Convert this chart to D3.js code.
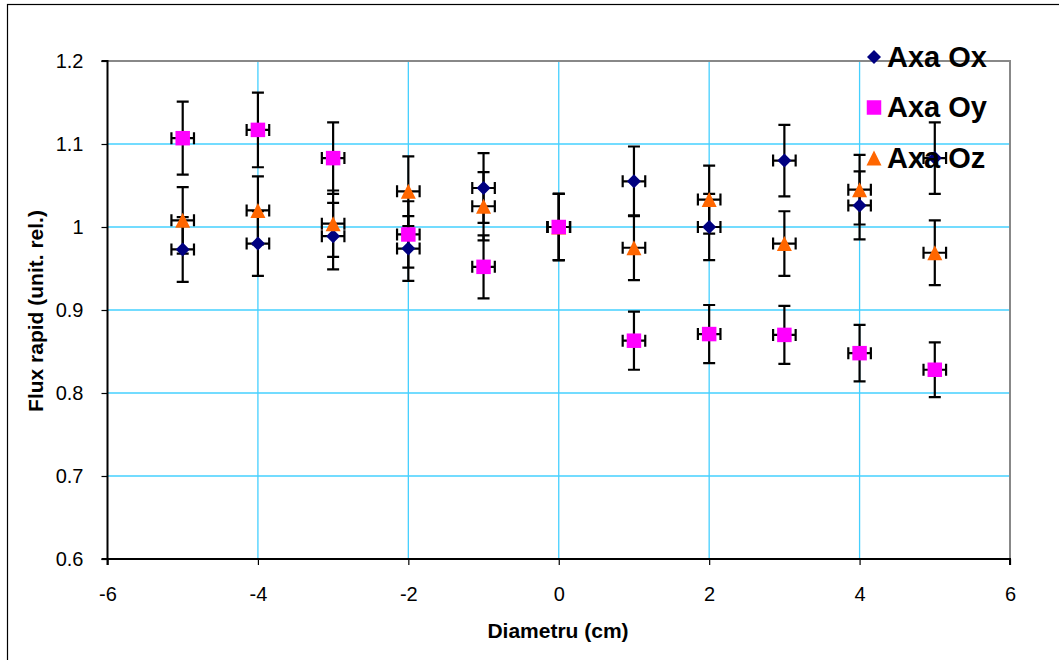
<!DOCTYPE html>
<html>
<head>
<meta charset="utf-8">
<script src="https://cdn.jsdelivr.net/npm/d3@7"></script>
<style>
  html, body { margin: 0; padding: 0; background: #fff; }
  svg { display: block; font-family: Arial, "Liberation Sans", sans-serif; }
</style>
</head>
<body>
<svg id="chart" width="1059" height="660"></svg>
<script>
// ---- data ----
const diameters = [-5, -4, -3, -2, -1, 0, 1, 2, 3, 4, 5];
const fluxOx = [0.973, 0.980, 0.989, 0.974, 1.047, 1.000, 1.055, 1.000, 1.080, 1.026, 1.083];
const fluxOy = [1.107, 1.117, 1.083, 0.991, 0.952, 1.000, 0.863, 0.871, 0.870, 0.848, 0.828];
const fluxOz = [1.008, 1.020, 1.004, 1.043, 1.025, 1.000, 0.975, 1.033, 0.980, 1.045, 0.969];
const errOx = [0.039, 0.039, 0.040, 0.039, 0.042, 0.040, 0.042, 0.040, 0.043, 0.041, 0.043];
const errOy = [0.044, 0.045, 0.043, 0.040, 0.038, 0.040, 0.035, 0.035, 0.035, 0.034, 0.033];
const errOz = [0.040, 0.041, 0.040, 0.042, 0.041, 0.040, 0.039, 0.041, 0.039, 0.042, 0.039];
const errX = [0.15, 0.15, 0.15, 0.15, 0.15, 0.15, 0.15, 0.15, 0.15, 0.15, 0.15];
const seriesNames = ["Axa Ox", "Axa Oy", "Axa Oz"];
const xTicks = [-6, -4, -2, 0, 2, 4, 6];
const yTicks = [0.6, 0.7, 0.8, 0.9, 1.0, 1.1, 1.2];
const xTitle = "Diametru (cm)";
const yTitle = "Flux rapid (unit. rel.)";

(function () {
// square rotated 45 degrees (Excel-style diamond)
const diamond = { draw(ctx, size) { const r = Math.sqrt(size / 2); ctx.moveTo(0, -r); ctx.lineTo(r, 0); ctx.lineTo(0, r); ctx.lineTo(-r, 0); ctx.closePath(); } };
// isosceles triangle with bbox centered
const tri = { draw(ctx, size) { const h = Math.sqrt(size) ; ctx.moveTo(0, -h / 2); ctx.lineTo(h / 2, h / 2); ctx.lineTo(-h / 2, h / 2); ctx.closePath(); } };

const series = [
  { name: seriesNames[0], values: fluxOx, err: errOx, color: "#000080", symbol: diamond, size: 98, z: 0 },
  { name: seriesNames[1], values: fluxOy, err: errOy, color: "#FF00FF", symbol: d3.symbolSquare, size: 210, z: 2 },
  { name: seriesNames[2], values: fluxOz, err: errOz, color: "#FF6600", symbol: tri, size: 225, z: 1 }
];

// ---- layout ----
const svg = d3.select("#chart");
const pL = 107.5, pR = 1010, pT = 61, pB = 559;
const x = d3.scaleLinear().domain([-6, 6]).range([pL, pR]);
const y = d3.scaleLinear().domain([0.6, 1.2]).range([pB, pT]);

// outer border
svg.append("rect").attr("x", 7.5).attr("y", 4.5).attr("width", 1100).attr("height", 700)
  .attr("fill", "none").attr("stroke", "#000").attr("stroke-width", 1.2);

// gridlines
const gridColor = "#45D0FF";
svg.append("g").selectAll("line").data(yTicks.filter(t => t > 0.6 && t < 1.2)).join("line")
  .attr("x1", pL).attr("x2", pR).attr("y1", d => y(d)).attr("y2", d => y(d))
  .attr("stroke", gridColor).attr("stroke-width", 1.3);
svg.append("g").selectAll("line").data(xTicks.filter(t => t > -6 && t < 6)).join("line")
  .attr("y1", pT).attr("y2", pB).attr("x1", d => x(d)).attr("x2", d => x(d))
  .attr("stroke", gridColor).attr("stroke-width", 1.3);

// plot frame top/right (gray)
svg.append("path").attr("d", `M${pL},${pT}H${pR}V${pB}`)
  .attr("fill", "none").attr("stroke", "#888").attr("stroke-width", 2);

// axes
const yAxis = d3.axisLeft(y).tickValues(yTicks).tickFormat(d => String(+d.toFixed(1))).tickSize(6).tickPadding(18);
const xAxis = d3.axisBottom(x).tickValues(xTicks).tickFormat(d => String(d)).tickSize(6).tickPadding(22);

const gy = svg.append("g").attr("transform", `translate(${pL},0)`).call(yAxis);
const gx = svg.append("g").attr("transform", `translate(0,${pB})`).call(xAxis);
[gy, gx].forEach(g => {
  g.select(".domain").attr("stroke", "#000").attr("stroke-width", 2);
  g.selectAll(".tick line").attr("stroke", "#000").attr("stroke-width", 1.2);
  g.selectAll(".tick text").attr("font-size", 20).attr("font-family", "Arial, 'Liberation Sans', sans-serif").attr("fill", "#000");
});
gy.select(".domain").attr("d", `M-6,${pB}H0V${pT}H-6`);
gx.select(".domain").attr("d", `M${pL},6V0H${pR}V6`);

// axis titles
svg.append("text").attr("x", 558).attr("y", 638).attr("text-anchor", "middle")
  .attr("font-size", 21).attr("font-weight", "bold").text(xTitle);
svg.append("text").attr("transform", "translate(43,311) rotate(-90)").attr("text-anchor", "middle")
  .attr("font-size", 21).attr("font-weight", "bold").text(yTitle);

// error bars
const eb = svg.append("g").attr("stroke", "#000").attr("stroke-width", 2.2).attr("fill", "none");
series.forEach(s => {
  diameters.forEach((d, i) => {
    const cx = x(d), v = s.values[i], e = s.err[i];
    const y1 = y(v + e), y2 = y(v - e);
    const xl = x(d - errX[i]), xr = x(d + errX[i]);
    eb.append("path").attr("d",
      `M${cx},${y1}V${y2}M${cx - 6},${y1}H${cx + 6}M${cx - 6},${y2}H${cx + 6}` +
      `M${xl},${y(v)}H${xr}M${xl},${y(v) - 6}V${y(v) + 6}M${xr},${y(v) - 6}V${y(v) + 6}`);
  });
});

// markers (magenta squares drawn on top)
series.slice().sort((a, b) => a.z - b.z).forEach(s => {
  svg.append("g").selectAll("path").data(diameters).join("path")
    .attr("transform", (d, i) => `translate(${x(d)},${y(s.values[i])})`)
    .attr("d", d3.symbol().type(s.symbol).size(s.size))
    .attr("fill", s.color);
});

// legend
const lg = svg.append("g");
series.forEach((s, i) => {
  const cy = 57 + i * 50.5;
  lg.append("path").attr("transform", `translate(874,${cy})`)
    .attr("d", d3.symbol().type(s.symbol).size(s.size)).attr("fill", s.color);
  lg.append("text").attr("x", 887).attr("y", cy + 9.5)
    .attr("font-size", 29).attr("font-weight", "bold").attr("fill", "#000").text(s.name);
});
})();
</script>
</body>
</html>
